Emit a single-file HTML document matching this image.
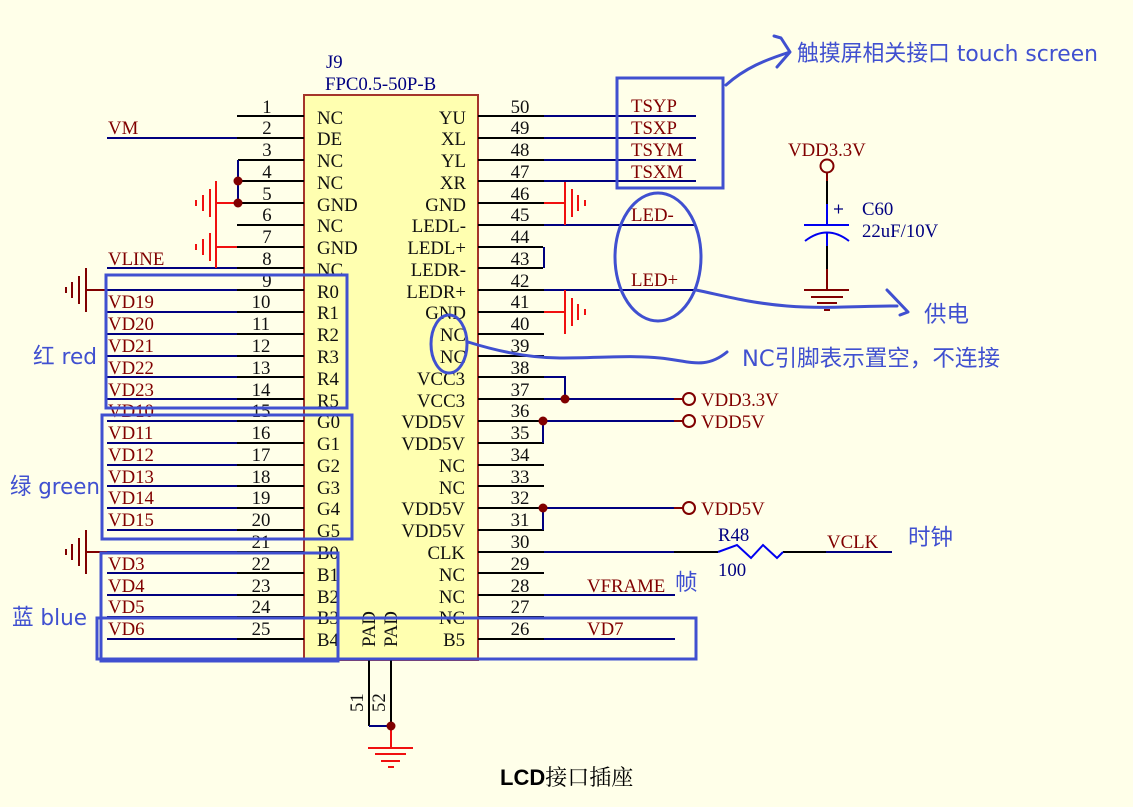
<!DOCTYPE html>
<html><head><meta charset="utf-8"><style>
html,body{margin:0;padding:0;background:#ffffe9}
svg{display:block}
text{font-family:"Liberation Serif","Noto Serif CJK SC",serif;font-size:18.8px;fill:#111}
.n text,text.n{fill:#800000}
.b text,text.b{fill:#000080}
.h text{font-family:"DejaVu Sans","Noto Sans CJK SC",sans-serif;font-size:22.5px;fill:#4050d0}
.c{text-anchor:middle}.e{text-anchor:end}
</style></head><body>
<svg width="1133" height="807" viewBox="0 0 1133 807" xmlns="http://www.w3.org/2000/svg">
<rect width="1133" height="807" fill="#ffffe9"/>
<rect x="304" y="95" width="174" height="565" fill="#ffffb0" stroke="#a5352b" stroke-width="2"/>
<!-- pins black -->
<path fill="none" stroke="#000" stroke-width="2" d="M237 116H304M237 138H304M238 160H304M238 181H304M238 203H304M237 225H304M237 268H304M237 290H304M237 312H304M237 334H304M237 356H304M237 377H304M237 399H304M237 421H304M237 443H304M237 465H304M237 486H304M237 508H304M237 530H304M237 552H304M237 573H304M237 595H304M237 617H304M237 639H304M478 116H544M478 138H544M478 160H544M478 181H544M478 203H544M478 225H544M478 247H543M478 268H543M478 290H544M478 312H544M478 334H544M478 356H544M478 377H544M478 399H544M478 421H544M478 443H544M478 465H544M478 486H544M478 508H544M478 530H544M478 552H544M478 573H544M478 595H544M478 617H544M478 639H544M674 552H718M783 552H826M369 660V726M391 660V726M827 181V204M827 246V269M237 247H304"/>
<!-- wires navy -->
<path fill="none" stroke="#000080" stroke-width="2" d="M107 138H237M238 160V203M107 268H237M107 290H237M107 312H237M107 334H237M107 356H237M107 377H237M107 399H237M107 421H237M107 443H237M107 465H237M107 486H237M107 508H237M107 530H237M107 552H237M107 573H237M107 595H237M107 617H237M107 639H237M544 116H696M544 138H696M544 160H696M544 181H696M544 225H696M544 290H696M544 247V268M544 377H565V399M544 399H674M543 421H674M543 421V443M543 508H674M543 508V530M544 552H674M826 552H892M544 595H675M544 639H675M369 726H391"/>
<!-- red grounds -->
<path fill="none" stroke="#f01010" stroke-width="2" d="M237 203H216M237 247H216M216 181V268M210 189V217M203 195V211M196 200V206M210 233V261M203 239V255M196 244V250M544 203H565M565 182V225M572 189V217M578 195V211M585 200V206M544 312H565M565 290V334M572 298V326M578 304V320M585 309V315M391 726V748M368 748H413M375 754H406M381 761H400M388 767H394"/>
<!-- dark red grounds -->
<path fill="none" stroke="#800000" stroke-width="2" d="M86 290H107M86 268V312M79 276V304M72 282V298M66 287V293M86 552H107M86 530V574M79 538V566M72 544V560M66 549V555M674 399H683M674 421H683M674 508H683M827 173V181M827 269V290M804 290H849M811 297H843M817 303H837M824 310H830"/>
<g fill="#ffffe9" stroke="#800000" stroke-width="2"><circle cx="689" cy="399" r="6"/><circle cx="689" cy="421" r="6"/><circle cx="689" cy="508" r="6"/><circle cx="827" cy="166" r="6.5"/></g>
<g fill="#800000"><circle cx="238" cy="181" r="4.500"/><circle cx="238" cy="203" r="4.500"/><circle cx="565" cy="399" r="4.500"/><circle cx="543" cy="421" r="4.500"/><circle cx="543" cy="508" r="4.500"/><circle cx="391" cy="726" r="4.500"/></g>
<!-- capacitor, resistor -->
<path fill="none" stroke="#0000f0" stroke-width="2" d="M827 204V225M804 225H849M827 233V246M805 241Q827 224 849 241M718 552L737 545L751 558L763 545L777 558L783 552" stroke-linejoin="miter"/>
<path fill="none" stroke="#000080" stroke-width="1.2" d="M834 209H843M838.500 204.500V213.500"/>
<!-- pin numbers -->
<g class="c">
<text x="267" y="113">1</text><text x="267" y="134">2</text><text x="267" y="156">3</text><text x="267" y="178">4</text><text x="267" y="200">5</text><text x="267" y="221">6</text><text x="267" y="243">7</text><text x="267" y="265">8</text><text x="267" y="287">9</text><text x="261" y="308">10</text><text x="261" y="330">11</text><text x="261" y="352">12</text><text x="261" y="374">13</text><text x="261" y="396">14</text><text x="261" y="417">15</text><text x="261" y="439">16</text><text x="261" y="461">17</text><text x="261" y="483">18</text><text x="261" y="504">19</text><text x="261" y="526">20</text><text x="261" y="548">21</text><text x="261" y="570">22</text><text x="261" y="592">23</text><text x="261" y="613">24</text><text x="261" y="635">25</text>
<text x="520" y="113">50</text><text x="520" y="134">49</text><text x="520" y="156">48</text><text x="520" y="178">47</text><text x="520" y="200">46</text><text x="520" y="221">45</text><text x="520" y="243">44</text><text x="520" y="265">43</text><text x="520" y="287">42</text><text x="520" y="308">41</text><text x="520" y="330">40</text><text x="520" y="352">39</text><text x="520" y="374">38</text><text x="520" y="396">37</text><text x="520" y="417">36</text><text x="520" y="439">35</text><text x="520" y="461">34</text><text x="520" y="483">33</text><text x="520" y="504">32</text><text x="520" y="526">31</text><text x="520" y="548">30</text><text x="520" y="570">29</text><text x="520" y="592">28</text><text x="520" y="613">27</text><text x="520" y="635">26</text>
</g>
<!-- pin names left -->
<g>
<text x="317" y="124">NC</text><text x="317" y="145">DE</text><text x="317" y="167">NC</text><text x="317" y="189">NC</text><text x="317" y="211">GND</text><text x="317" y="232">NC</text><text x="317" y="254">GND</text><text x="317" y="276">NC</text><text x="317" y="298">R0</text><text x="317" y="319">R1</text><text x="317" y="341">R2</text><text x="317" y="363">R3</text><text x="317" y="385">R4</text><text x="317" y="407">R5</text><text x="317" y="428">G0</text><text x="317" y="450">G1</text><text x="317" y="472">G2</text><text x="317" y="494">G3</text><text x="317" y="515">G4</text><text x="317" y="537">G5</text><text x="317" y="559">B0</text><text x="317" y="581">B1</text><text x="317" y="603">B2</text><text x="317" y="624">B3</text><text x="317" y="646">B4</text>
</g>
<!-- pin names right -->
<g class="e">
<text x="466" y="124">YU</text><text x="466" y="145">XL</text><text x="466" y="167">YL</text><text x="466" y="189">XR</text><text x="466" y="211">GND</text><text x="466" y="232">LEDL-</text><text x="466" y="254">LEDL+</text><text x="466" y="276">LEDR-</text><text x="466" y="298">LEDR+</text><text x="466" y="319">GND</text><text x="466" y="341">NC</text><text x="466" y="363">NC</text><text x="465" y="385">VCC3</text><text x="465" y="407">VCC3</text><text x="465" y="428">VDD5V</text><text x="465" y="450">VDD5V</text><text x="465" y="472">NC</text><text x="465" y="494">NC</text><text x="465" y="515">VDD5V</text><text x="465" y="537">VDD5V</text><text x="465" y="559">CLK</text><text x="465" y="581">NC</text><text x="465" y="603">NC</text><text x="465" y="624">NC</text><text x="465" y="646">B5</text>
</g>
<!-- net labels -->
<g class="n">
<text x="108" y="134">VM</text><text x="108" y="265">VLINE</text><text x="108" y="308">VD19</text><text x="108" y="330">VD20</text><text x="108" y="352">VD21</text><text x="108" y="374">VD22</text><text x="108" y="396">VD23</text><text x="108" y="417">VD10</text><text x="108" y="439">VD11</text><text x="108" y="461">VD12</text><text x="108" y="483">VD13</text><text x="108" y="504">VD14</text><text x="108" y="526">VD15</text><text x="108" y="570">VD3</text><text x="108" y="592">VD4</text><text x="108" y="613">VD5</text><text x="108" y="635">VD6</text>
<text x="631" y="112">TSYP</text><text x="631" y="134">TSXP</text><text x="631" y="156">TSYM</text><text x="631" y="178">TSXM</text><text x="631" y="221">LED-</text><text x="631" y="286">LED+</text>
<text x="788" y="156">VDD3.3V</text><text x="701" y="406">VDD3.3V</text><text x="701" y="428">VDD5V</text><text x="701" y="515">VDD5V</text><text x="827" y="548">VCLK</text><text x="587" y="592">VFRAME</text><text x="587" y="635">VD7</text>
</g>
<g class="b">
<text x="326" y="68">J9</text><text x="325" y="90">FPC0.5-50P-B</text><text x="862" y="215">C60</text><text x="862" y="237">22uF/10V</text><text x="718" y="541">R48</text><text x="718" y="576">100</text>
</g>
<text transform="translate(375,647) rotate(-90)">PAD</text>
<text transform="translate(397,647) rotate(-90)">PAD</text>
<text transform="translate(363,712) rotate(-90)">51</text>
<text transform="translate(385,712) rotate(-90)">52</text>
<!-- annotation boxes -->
<g fill="none" stroke="#4050d0" stroke-width="3">
<rect x="106" y="275" width="241" height="133"/>
<rect x="102" y="415" width="250" height="124"/>
<rect x="101" y="553" width="237" height="108"/>
<rect x="97" y="618" width="599" height="41"/>
<rect x="617" y="78" width="106" height="110"/>
<ellipse cx="658" cy="257" rx="43" ry="64"/>
<ellipse cx="449" cy="344" rx="18" ry="29"/>
<path stroke-linecap="round" stroke-linejoin="round" d="M726 85C745 68 765 60 790 52M774 36L781 38L790 52L777 67"/>
<path stroke-linecap="round" stroke-linejoin="round" d="M696 290C725 296 750 303 787 306C825 309 860 306 897 306M887 290L908 312L900 315"/>
<path stroke-linecap="round" d="M468 342C500 352 530 358 560 358C600 358 630 355 660 358C690 361 705 370 727 352"/>
</g>
<!-- annotation text -->
<g class="h">
<text x="797" y="61" textLength="301" lengthAdjust="spacingAndGlyphs">触摸屏相关接口 touch screen</text>
<text x="924" y="322">供电</text>
<text x="742" y="366" textLength="258" lengthAdjust="spacingAndGlyphs">NC引脚表示置空，不连接</text>
<text x="908" y="545">时钟</text>
<text x="675" y="590">帧</text>
<text x="33" y="364" textLength="64" lengthAdjust="spacingAndGlyphs">红 red</text>
<text x="10" y="494" textLength="90" lengthAdjust="spacingAndGlyphs">绿 green</text>
<text x="12" y="625" textLength="75" lengthAdjust="spacingAndGlyphs">蓝 blue</text>
</g>
<text x="500" y="785" style="font-family:'Liberation Sans','Noto Serif CJK SC',sans-serif;font-size:22px;fill:#000"><tspan font-weight="bold">LCD</tspan>接口插座</text>
</svg>
</body></html>
